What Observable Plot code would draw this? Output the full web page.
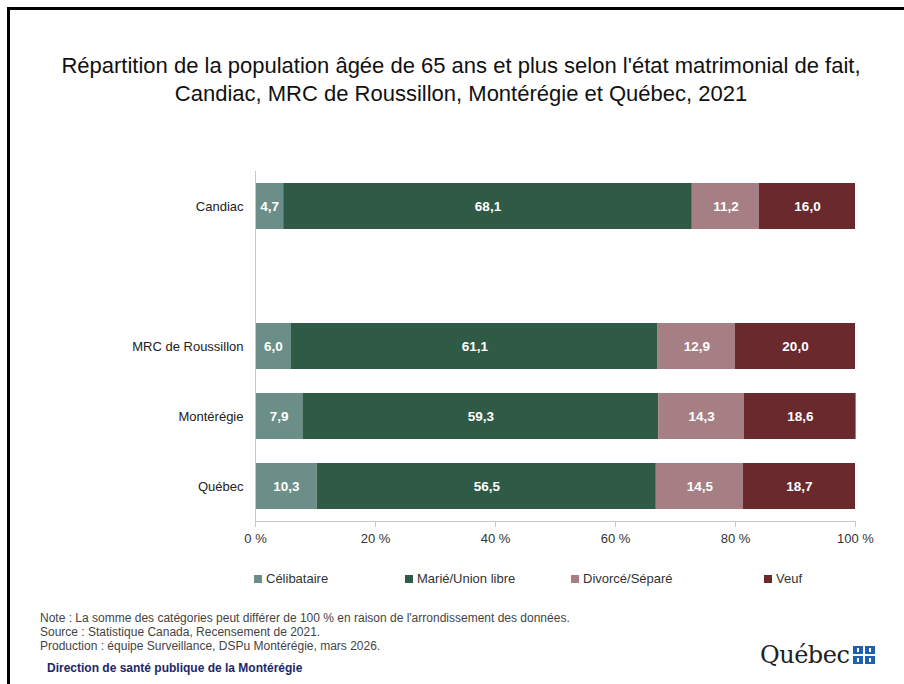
<!DOCTYPE html>
<html>
<head>
<meta charset="utf-8">
<script src="https://cdn.jsdelivr.net/npm/d3@7"></script>
<script src="https://cdn.jsdelivr.net/npm/@observablehq/plot@0.6"></script>
<style>
  html, body { margin: 0; padding: 0; background: #fff; }
  #wrap { position: relative; width: 904px; height: 684px; overflow: hidden; background: #fff; font-family: "Liberation Sans", Arial, sans-serif; }
  #frame { position: absolute; left: 7px; top: 7px; width: 910px; height: 690px; border-left: 3px solid #000; border-top: 3px solid #000; box-sizing: border-box; }
  #title { position: absolute; left: 0; width: 922px; top: 52px; text-align: center; font-family: "Liberation Sans Narrow", "Liberation Sans", Arial, sans-serif; font-size: 22px; line-height: 28px; color: #111; }
  #chart { position: absolute; left: 0; top: 160px; }
  #legend { position: absolute; top: 571px; left: 0; width: 904px; height: 18px; font-size: 13px; color: #333; }
  .li { position: absolute; top: 0; white-space: nowrap; }
  .sw { display: inline-block; width: 8px; height: 8px; margin-right: 4px; vertical-align: 0px; }
  #notes { position: absolute; left: 40px; top: 611px; font-family: "Liberation Sans Narrow", "Liberation Sans", Arial, sans-serif; font-size: 12px; line-height: 14px; color: #444; }
  #dsp { position: absolute; left: 47px; top: 661px; font-family: "Liberation Sans Narrow", "Liberation Sans", Arial, sans-serif; font-size: 12px; font-weight: bold; color: #1c2768; }
  #logo { position: absolute; left: 760px; top: 641px; display: flex; align-items: center; }
  #logo .word { font-family: "DejaVu Serif", serif; font-size: 24px; color: #222; letter-spacing: -0.5px; }
  #logo .flag { display: grid; grid-template-columns: 10px 10px; grid-gap: 2px; margin-left: 4px; }
  #logo .flag div { width: 10px; height: 8px; background: #1d5fb0; position: relative; }
  #logo .flag div::after { content: ""; position: absolute; left: 4px; top: 2px; width: 2px; height: 4px; background: #fff; }
</style>
</head>
<body>
<div id="wrap">
  <div id="frame"></div>
  <div id="title">Répartition de la population âgée de 65 ans et plus selon l'état matrimonial de fait,<br>Candiac, MRC de Roussillon, Montérégie et Québec, 2021</div>
  <div id="chart"></div>
  <div id="legend"></div>
  <div id="notes">Note : La somme des catégories peut différer de 100 % en raison de l'arrondissement des données.<br>Source : Statistique Canada, Recensement de 2021.<br>Production : équipe Surveillance, DSPu Montérégie, mars 2026.</div>
  <div id="dsp">Direction de santé publique de la Montérégie</div>
  <div id="logo"><span class="word">Québec</span><div class="flag"><div></div><div></div><div></div><div></div></div></div>
</div>
<script>
const regions = ["Candiac", "MRC de Roussillon", "Montérégie", "Québec"];
const yDomain = ["Candiac", " ", "MRC de Roussillon", "Montérégie", "Québec"];
const statuses = ["Célibataire", "Marié/Union libre", "Divorcé/Séparé", "Veuf"];
const colors = ["#6b8f88", "#2f5a46", "#a67f85", "#6a2a2d"];
const celibataire = [4.7, 6.0, 7.9, 10.3];
const marie = [68.1, 61.1, 59.3, 56.5];
const divorce = [11.2, 12.9, 14.3, 14.5];
const veuf = [16.0, 20.0, 18.6, 18.7];
const xTicks = [0, 20, 40, 60, 80, 100];
const legendX = [254, 405, 571, 764];

const series = [celibataire, marie, divorce, veuf];
const data = [];
regions.forEach((r, i) => {
  statuses.forEach((s, j) => {
    data.push({region: r, status: s, value: series[j][i]});
  });
});
const fmt = v => v.toFixed(1).replace(".", ",");

const chart = Plot.plot({
  width: 904,
  height: 400,
  marginLeft: 255,
  marginRight: 49,
  marginTop: 11,
  marginBottom: 39,
  style: {fontFamily: "'Liberation Sans', Arial, sans-serif", fontSize: "13px", color: "#333", background: "transparent"},
  x: {domain: [0, 100], ticks: xTicks, tickFormat: d => `${d} %`, label: null},
  y: {domain: yDomain, paddingInner: 0.343, paddingOuter: 0.1715, label: null},
  color: {domain: statuses, range: colors},
  marks: [
    Plot.barX(data, Plot.stackX({x: "value", y: "region", fill: "status", order: null})),
    Plot.textX(data, Plot.stackX({x: "value", y: "region", order: null, text: d => fmt(d.value), fill: "white", fontSize: 13.5, fontWeight: "bold"})),
    Plot.ruleX([0], {stroke: "#c8c8c8", strokeWidth: 1}),
    Plot.frame({anchor: "bottom", stroke: "#c8c8c8"}),
    Plot.axisX({ticks: xTicks, tickFormat: d => `${d} %`, tickSize: 6, tickPadding: 6, stroke: "#c8c8c8", fill: "#333", label: null}),
    Plot.axisY({tickSize: 0, tickPadding: 12, fill: "#222", label: null})
  ]
});
document.getElementById("chart").appendChild(chart);

const legend = document.getElementById("legend");
statuses.forEach((s, i) => {
  const item = document.createElement("div");
  item.className = "li";
  item.style.left = legendX[i] + "px";
  item.innerHTML = `<span class="sw" style="background:${colors[i]}"></span>${s}`;
  legend.appendChild(item);
});
</script>
</body>
</html>
